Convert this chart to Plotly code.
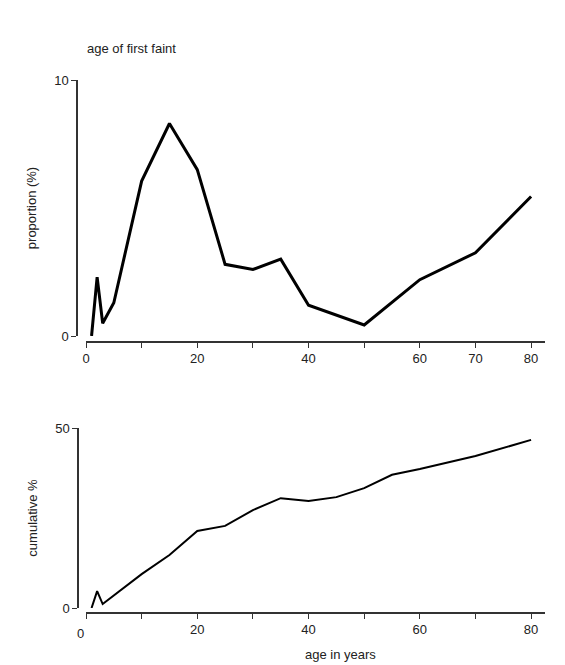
import plotly.graph_objects as go

age_top = [1, 2, 3, 5, 10, 15, 20, 25, 30, 35, 40, 50, 60, 70, 80]
proportion = [0, 2.3, 0.5, 1.3, 6.05, 8.3, 6.5, 2.8, 2.6, 3.0, 1.2, 0.43, 2.2, 3.25, 5.45]
age_bot = [1, 2, 3, 10, 15, 20, 25, 30, 35, 40, 45, 50, 55, 60, 70, 80]
cumulative = [0, 4.7, 1.1, 9.4, 14.7, 21.4, 22.8, 27.2, 30.5, 29.7, 30.8, 33.3, 37, 38.6, 42.2, 46.7]
top_tickvals = [0, 10, 20, 30, 40, 50, 60, 70, 80]
top_ticktext = ["0", "", "20", "", "40", "", "60", "70", "80"]
bot_ticktext = ["", "", "20", "", "40", "", "60", "", "80"]

W, H = 565, 665
px = lambda x: x / W
py = lambda y: 1 - y / H

fig = go.Figure()
fig.add_trace(go.Scatter(x=age_top, y=proportion, mode="lines",
                         line=dict(color="black", width=3), xaxis="x", yaxis="y"))
fig.add_trace(go.Scatter(x=age_bot, y=cumulative, mode="lines",
                         line=dict(color="black", width=2), xaxis="x2", yaxis="y2"))

font = dict(family="Liberation Sans, Arial", size=13, color="#222")
xcommon = dict(range=[0, 82.5], domain=[px(78), px(537)], anchor="free", automargin=False,
               showline=True, linecolor="#333", linewidth=1.5, ticks="outside",
               ticklen=5, tickcolor="#333", tickvals=top_tickvals, showgrid=False,
               zeroline=False, tickfont=font)
ycommon = dict(anchor="free", showline=True, linecolor="#333", linewidth=1.5, automargin=False,
               ticks="outside", ticklen=5, tickcolor="#333", showgrid=False,
               zeroline=False, tickfont=font, title_font=font)

fig.update_layout(
    width=W, height=H, margin=dict(l=0, r=0, t=0, b=0, autoexpand=False),
    paper_bgcolor="white", plot_bgcolor="white", showlegend=False, font=font,
    xaxis=dict(xcommon, position=py(334), ticktext=top_ticktext),
    yaxis=dict(ycommon, domain=[py(328), py(72)], range=[0, 10], tickvals=[0, 10],
               position=px(69), title=dict(text="proportion (%)", standoff=14)),
    xaxis2=dict(xcommon, position=py(605), ticktext=bot_ticktext),
    yaxis2=dict(ycommon, domain=[py(600), py(420)], range=[0, 50], tickvals=[0, 50],
                position=px(70), title=dict(text="cumulative %", standoff=14)),
    annotations=[
        dict(text="age of first faint", x=px(77), y=py(41), xref="paper", yref="paper",
             xanchor="left", yanchor="middle", showarrow=False, font=font),
        dict(text="age in years", x=px(332), y=py(646), xref="paper", yref="paper",
             xanchor="center", yanchor="middle", showarrow=False, font=font),
        dict(text="0", x=0, y=py(625), xref="x2", yref="paper",
             xanchor="right", yanchor="middle", showarrow=False, font=font),
    ],
)
fig.write_html("out.html")
